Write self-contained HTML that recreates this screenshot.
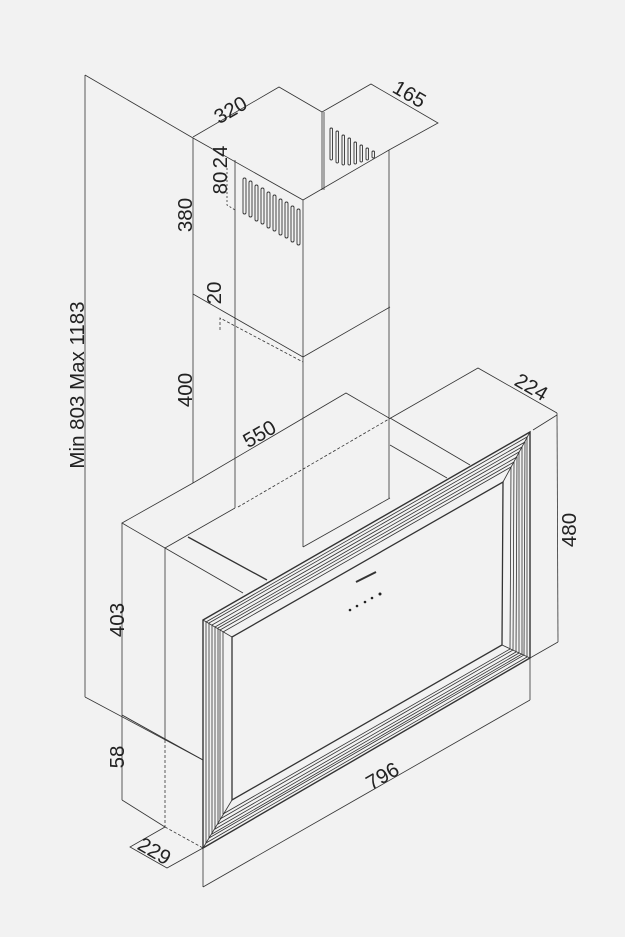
<!DOCTYPE html>
<html><head><style>html,body{margin:0;padding:0;background:#f2f2f2}svg{display:block}text{font-family:"Liberation Sans",sans-serif;fill:#222}</style></head>
<body>
<svg width="625" height="937" viewBox="0 0 625 937" xmlns="http://www.w3.org/2000/svg">
<rect width="625" height="937" fill="#f2f2f2"/>
<g stroke="#333" stroke-width="0.8" fill="none">
<line x1="85" y1="75" x2="85" y2="697"/>
<line x1="85" y1="75" x2="193" y2="138"/>
<line x1="85" y1="697" x2="203" y2="760"/>
<polyline points="193,138 303,200 389,150"/>
<line x1="193" y1="138" x2="193" y2="483"/>
<line x1="303" y1="200" x2="303" y2="547"/>
<line x1="389" y1="150" x2="389" y2="498"/>
<line x1="235" y1="160" x2="235" y2="508"/>
<line x1="322" y1="112" x2="322" y2="190"/>
<line x1="324" y1="112" x2="324" y2="190"/>
<polyline points="193,137 279,87 322,112"/>
<polyline points="322,112 371,84 438,123 389,150"/>
<polyline points="193,294 303,357 390,307"/>
<polyline points="220,330 220,318 303,362" stroke-dasharray="3,2"/>
<polyline points="227,168 227,205 235,210" stroke-dasharray="2,2"/>
<polyline points="303,547 390,498"/>
<line x1="238" y1="507" x2="389" y2="419" stroke-dasharray="3,2"/>
<polyline points="193,483 346,393 389,418"/>
<polyline points="389,419 478,368 557,413"/>
<line x1="390" y1="418" x2="470" y2="465"/>
<line x1="390" y1="445" x2="447" y2="478"/>
<polyline points="193,483 122,523 165,548 235,508"/>
<line x1="188" y1="537" x2="267" y2="580" stroke-width="1.3"/>
<line x1="165" y1="548" x2="243" y2="593"/>
<line x1="122" y1="523" x2="122" y2="800"/>
<line x1="165" y1="548" x2="165" y2="740"/>
<line x1="533" y1="430" x2="557" y2="415"/>
<line x1="557" y1="413" x2="558" y2="642"/>
<line x1="530" y1="658" x2="558" y2="642"/>
<line x1="122" y1="715" x2="203" y2="760" stroke-width="1"/>
<line x1="122" y1="800" x2="165" y2="827"/>
<line x1="165" y1="740" x2="165" y2="827" stroke-dasharray="3,2"/>
<line x1="165" y1="827" x2="203" y2="848" stroke-dasharray="3,2"/>
<polyline points="165,827 130,847 167,868 203,848"/>
<line x1="203" y1="848" x2="203" y2="887"/>
<line x1="203" y1="887" x2="530" y2="700"/>
<line x1="530" y1="658" x2="530" y2="700"/>
<polygon points="203,620 530,432 530,658 203,848" stroke-width="1.4"/>
<polygon points="206,622 527,437 527,657 206,843"/>
<polygon points="209,623 525,442 524,655 209,838"/>
<polygon points="212,625 522,447 522,654 212,834"/>
<polygon points="215,627 519,452 519,653 215,829"/>
<polygon points="218,628 517,457 516,652 218,824"/>
<polygon points="220,630 514,462 513,650 220,819"/>
<polygon points="223,632 511,467 510,649 223,814"/>
<polygon points="232,637 503,482 502,645 232,800" stroke-width="1.3"/>
<line x1="203" y1="620" x2="232" y2="637"/>
<line x1="530" y1="432" x2="503" y2="482"/>
<line x1="530" y1="658" x2="502" y2="645"/>
<line x1="203" y1="848" x2="232" y2="800"/>
<g stroke-width="0.9">
<rect x="243" y="178" width="3" height="36" rx="1.5"/>
<rect x="249" y="181" width="3" height="36" rx="1.5"/>
<rect x="255" y="185" width="3" height="36" rx="1.5"/>
<rect x="261" y="188" width="3" height="36" rx="1.5"/>
<rect x="267" y="192" width="3" height="36" rx="1.5"/>
<rect x="273" y="195" width="3" height="36" rx="1.5"/>
<rect x="279" y="199" width="3" height="36" rx="1.5"/>
<rect x="285" y="202" width="3" height="36" rx="1.5"/>
<rect x="291" y="206" width="3" height="36" rx="1.5"/>
<rect x="297" y="209" width="3" height="36" rx="1.5"/>
<rect x="330" y="128" width="2.5" height="32" rx="1.2"/>
<rect x="336" y="131" width="2.5" height="32" rx="1.2"/>
<rect x="342" y="135" width="2.5" height="30" rx="1.2"/>
<rect x="348" y="138" width="2.5" height="27" rx="1.2"/>
<rect x="354" y="142" width="2.5" height="22" rx="1.2"/>
<rect x="360" y="145" width="2.5" height="17" rx="1.2"/>
<rect x="366" y="148" width="2.5" height="12" rx="1.2"/>
<rect x="372" y="151" width="2.5" height="7" rx="1.2"/>
</g>
</g>
<line x1="356" y1="582" x2="376" y2="572" stroke="#333" stroke-width="2"/>
<g fill="#222"><circle cx="350" cy="610" r="1.3"/><circle cx="357" cy="606" r="1.3"/><circle cx="365" cy="602" r="1.3"/><circle cx="372" cy="598" r="1.3"/><circle cx="380" cy="594" r="1.5"/></g>
<g font-size="20.5">
<text transform="translate(84,385) rotate(-90)" text-anchor="middle">Min 803 Max 1183</text>
<text transform="translate(192,215) rotate(-90)" text-anchor="middle">380</text>
<text transform="translate(221,293) rotate(-90)" text-anchor="middle">20</text>
<text transform="translate(227,183) rotate(-90)" text-anchor="middle">80</text>
<text transform="translate(227,157) rotate(-90)" text-anchor="middle">24</text>
<text transform="translate(192,390) rotate(-90)" text-anchor="middle">400</text>
<text transform="translate(124,620) rotate(-90)" text-anchor="middle">403</text>
<text transform="translate(124,757) rotate(-90)" text-anchor="middle">58</text>
<text transform="translate(576,530) rotate(-90)" text-anchor="middle">480</text>
<text transform="translate(234,116) rotate(-30)" text-anchor="middle">320</text>
<text transform="translate(406,100) rotate(30)" text-anchor="middle">165</text>
<text transform="translate(528,393) rotate(30)" text-anchor="middle">224</text>
<text transform="translate(263,440) rotate(-30)" text-anchor="middle">550</text>
<text transform="translate(386,782) rotate(-30)" text-anchor="middle">796</text>
<text transform="translate(151,857) rotate(30)" text-anchor="middle">229</text>
</g>
</svg>
</body></html>
